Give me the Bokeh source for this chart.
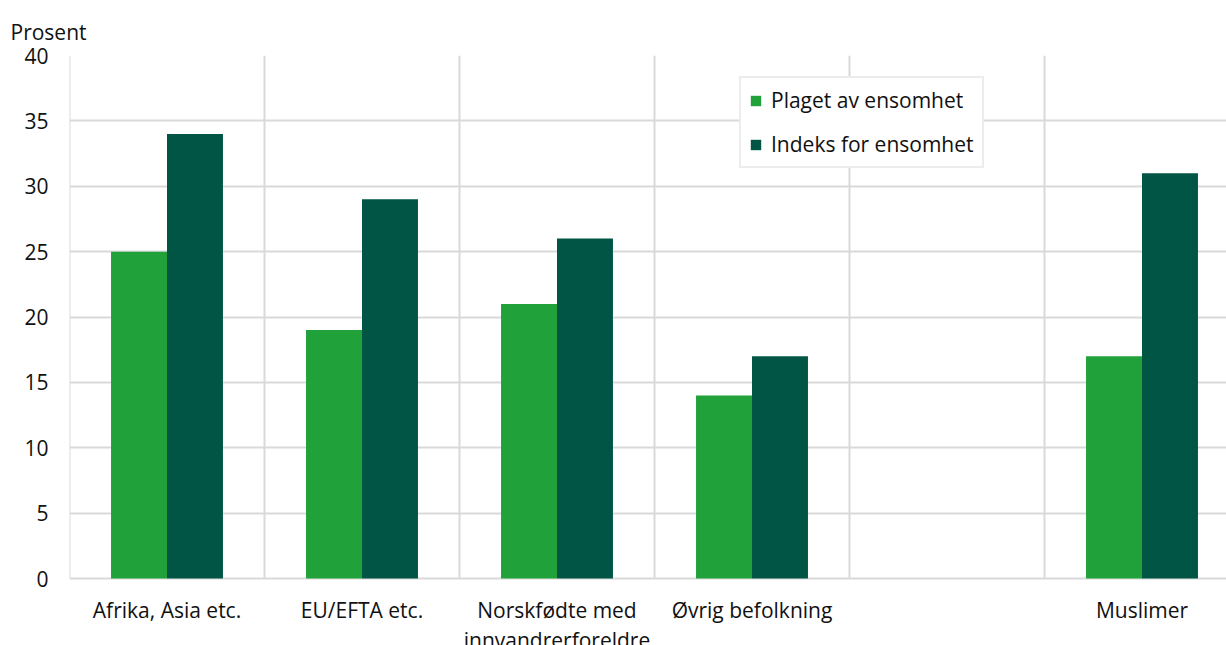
from bokeh.plotting import figure
from bokeh.models import FixedTicker, Legend, LegendItem, Range1d
from bokeh.core.properties import value
from bokeh.embed import file_html
from bokeh.resources import INLINE
import numpy as np

categories = ["Afrika, Asia etc.", "EU/EFTA etc.", "Norskfødte med\ninnvandrerforeldre",
              "Øvrig befolkning", "", "Muslimer"]
plaget = [25, 19, 21, 14, np.nan, 17]
indeks = [34, 29, 26, 17, np.nan, 31]
series_names = ["Plaget av ensomhet", "Indeks for ensomhet"]
colors = ["#21A139", "#005545"]
y_ticks = [0, 5, 10, 15, 20, 25, 30, 35, 40]

FONT = "Open Sans"
FS = "21px"
GRID = "#d9d9d9"
TXT = "#111111"

n = len(categories)
centers = np.arange(n) + 0.5
bounds = np.arange(n + 1)
bw = 0.287

# frame: 0 at y=578px, 40 at y=55px; frame continues to page bottom to hold category texts
px_per_unit = 523 / 40
p = figure(width=1226, height=645, output_backend="svg", toolbar_location=None,
           x_range=Range1d(0, 1157 / 195), y_range=Range1d(-67 / px_per_unit, 40),
           min_border_left=69, min_border_right=0, min_border_top=55, min_border_bottom=0)
p.outline_line_color = None

# vertical separators between categories (from 0 to 40)
p.segment(x0=bounds, y0=0, x1=bounds, y1=40, line_color=GRID, line_width=2)

r1 = p.vbar(x=centers - bw / 2, top=plaget, width=bw, color=colors[0], line_color=None)
r2 = p.vbar(x=centers + bw / 2, top=indeks, width=bw, color=colors[1], line_color=None)

# category labels
p.text(x=centers, y=0, text=categories, y_offset=17, text_align="center",
       text_baseline="top", text_font=value(FONT), text_font_size=FS,
       text_color=TXT, text_line_height=1.08)

p.xaxis.visible = False
p.xgrid.visible = False

p.yaxis.ticker = FixedTicker(ticks=y_ticks)
p.yaxis.axis_line_color = None
p.yaxis.major_tick_line_color = None
p.yaxis.minor_tick_line_color = None
p.yaxis.major_label_standoff = 15
p.yaxis.major_label_text_font = FONT
p.yaxis.major_label_text_font_size = FS
p.yaxis.major_label_text_color = TXT

p.ygrid.ticker = FixedTicker(ticks=y_ticks)
p.ygrid.grid_line_color = GRID
p.ygrid.grid_line_width = 2

p.title.text = "Prosent"
p.title.text_font = FONT
p.title.text_font_size = FS
p.title.text_font_style = "normal"
p.title.text_color = TXT
p.title.align = "left"
p.title.vertical_align = "top"
p.title.offset = -59
p.title.standoff = 16

legend = Legend(items=[LegendItem(label=series_names[0], renderers=[r1]),
                       LegendItem(label=series_names[1], renderers=[r2])],
                location=(670, 645 - 168))
legend.label_text_font = FONT
legend.label_text_font_size = FS
legend.label_text_color = TXT
legend.glyph_width = 13
legend.glyph_height = 13
legend.label_height = 20
legend.spacing = 16
legend.padding = 8
legend.margin = 0
legend.label_standoff = 9
legend.border_line_color = GRID
legend.border_line_width = 2
legend.background_fill_color = "white"
legend.background_fill_alpha = 1
p.add_layout(legend)

open("out.html", "w").write(file_html(p, INLINE))
